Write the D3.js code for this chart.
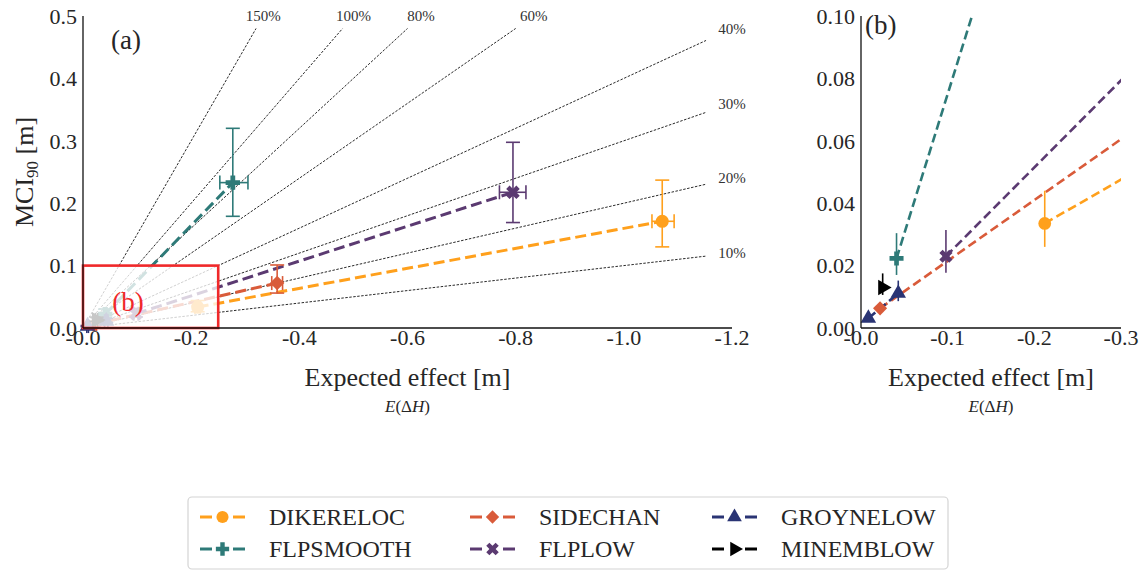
<!DOCTYPE html>
<html>
<head>
<meta charset="utf-8">
<script src="https://cdn.jsdelivr.net/npm/d3@7"></script>
<style>
    body { margin: 0; background: #fff; }
    .tick-label { fill: #262626; font-size: 22px; }
    .axis-label { fill: #262626; font-size: 26px; }
    .sub-label { fill: #262626; font-size: 17px; font-style: italic; }
    .pct-label { fill: #333; font-size: 15px; }
</style>
</head>
<body>
<svg id="chart"></svg>
<script>
// Scenario names in legend order (matplotlib fills the 3 columns top-down).
const scenarios = ['DIKERELOC', 'FLPSMOOTH', 'SIDECHAN', 'FLPLOW', 'GROYNELOW', 'MINEMBLOW'];
const colors = ['#ffa01c', '#2e7a78', '#d95b3a', '#5b3a71', '#2a3474', '#000000'];
const markers = ['circle', 'plus', 'diamond', 'x', 'triangleUp', 'triangleRight'];

// Expected effect E(dH) [m], one entry per option of each scenario.
const effect = [[-0.212, -1.071], [-0.041, -0.277], [-0.022, -0.359], [-0.098, -0.795], [-0.0085, -0.043], [-0.025]];
const effectLow = [[-0.207, -1.052], [-0.038, -0.253], [-0.019, -0.349], [-0.094, -0.770], [-0.007, -0.040], [-0.023]];
const effectHigh = [[-0.217, -1.093], [-0.044, -0.305], [-0.025, -0.369], [-0.102, -0.819], [-0.010, -0.046], [-0.027]];

// MCI90 [m] with its 90% bounds.
const mci = [[0.0335, 0.171], [0.0223, 0.233], [0.0063, 0.072], [0.023, 0.2175], [0.0031, 0.0111], [0.013]];
const mciLow = [[0.026, 0.130], [0.017, 0.179], [0.0046, 0.056], [0.0177, 0.169], [0.0022, 0.0086], [0.0106]];
const mciHigh = [[0.044, 0.237], [0.0304, 0.320], [0.0081, 0.101], [0.0314, 0.2976], [0.0040, 0.0152], [0.0175]];

// Reference ratios MCI / |E| drawn in panel (a).
const ratios = [0.1, 0.2, 0.3, 0.4, 0.6, 0.8, 1.0, 1.5];
const ratioLabels = ['10%', '20%', '30%', '40%', '60%', '80%', '100%', '150%'];

const xTicksA = [0, -0.2, -0.4, -0.6, -0.8, -1.0, -1.2];
const yTicksA = [0, 0.1, 0.2, 0.3, 0.4, 0.5];
const xTicksB = [0, -0.1, -0.2, -0.3];
const yTicksB = [0, 0.02, 0.04, 0.06, 0.08, 0.1];
const zoomBox = { x: [0, -0.25], y: [0, 0.1] };

const width = 1147;
const height = 573;
const serif = "'Liberation Serif', 'Times New Roman', 'DejaVu Serif', serif";

const svg = d3.select('#chart').attr('width', width).attr('height', height);

// Scales for both panels.
const xA = d3.scaleLinear().domain([0, -1.2]).range([83, 732]);
const yA = d3.scaleLinear().domain([0, 0.5]).range([328, 16]);
const xB = d3.scaleLinear().domain([0, -0.3]).range([861, 1121]);
const yB = d3.scaleLinear().domain([0, 0.1]).range([328, 16]);

function markerPath(kind, k) {
    switch (kind) {
        case 'circle': return { d: d3.symbol(d3.symbolCircle, 135 * k)(), rot: 0 };
        case 'plus': return { d: d3.symbol(d3.symbolCross, 115 * k)(), rot: 0 };
        case 'x': return { d: d3.symbol(d3.symbolCross, 115 * k)(), rot: 45 };
        case 'diamond': return { d: d3.symbol(d3.symbolSquare, 105 * k)(), rot: 45 };
        case 'triangleUp': return { d: d3.symbol(d3.symbolTriangle, 110 * k)(), rot: 0 };
        default: return { d: d3.symbol(d3.symbolTriangle, 110 * k)(), rot: 90 };
    }
}

function clip(id, x, y) {
    svg.append('clipPath')
        .attr('id', id)
        .append('rect')
        .attr('x', x.range()[0])
        .attr('y', y.range()[1])
        .attr('width', x.range()[1] - x.range()[0])
        .attr('height', y.range()[0] - y.range()[1]);
}
clip('clipA', xA, yA);
clip('clipB', xB, yB);

function drawScenarios(g, x, y, clipId, big) {
    const line = d3.line().x(d => x(d[0])).y(d => y(d[1]));
    const lw = big ? 3 : 2.6;

    // Dashed connection between the options of each scenario.
    g.append('g')
        .attr('clip-path', `url(#${clipId})`)
        .selectAll('path')
        .data(scenarios.map((s, i) => i).filter(i => effect[i].length > 1))
        .enter()
        .append('path')
        .attr('d', i => line(effect[i].map((e, j) => [e, mci[i][j]])))
        .attr('fill', 'none')
        .attr('stroke', i => colors[i])
        .attr('stroke-width', lw)
        .attr('stroke-dasharray', big ? '11,5' : '9,4.5');

    scenarios.forEach((s, i) => {
        effect[i].forEach((e, j) => {
            const cx = x(e);
            const cy = y(mci[i][j]);
            const cap = big ? 7 : 0;
            const bars = g.append('g').attr('stroke', colors[i]).attr('stroke-width', 1.6);

            // Vertical error bar.
            bars.append('line').attr('x1', cx).attr('x2', cx)
                .attr('y1', y(mciLow[i][j])).attr('y2', y(mciHigh[i][j]));
            // Horizontal error bar.
            bars.append('line').attr('y1', cy).attr('y2', cy)
                .attr('x1', x(effectLow[i][j])).attr('x2', x(effectHigh[i][j]));
            if (cap) {
                [mciLow[i][j], mciHigh[i][j]].forEach(v => {
                    bars.append('line').attr('x1', cx - cap).attr('x2', cx + cap)
                        .attr('y1', y(v)).attr('y2', y(v));
                });
                [effectLow[i][j], effectHigh[i][j]].forEach(v => {
                    bars.append('line').attr('y1', cy - cap).attr('y2', cy + cap)
                        .attr('x1', x(v)).attr('x2', x(v));
                });
            }

            const m = markerPath(markers[i], big ? 1 : 0.95);
            g.append('path')
                .attr('d', m.d)
                .attr('transform', `translate(${cx},${cy}) rotate(${m.rot})`)
                .attr('fill', colors[i]);
        });
    });
}

function drawAxes(x, y, xTicks, yTicks, xFmt, yFmt) {
    const g = svg.append('g');
    g.append('line').attr('x1', x.range()[0]).attr('x2', x.range()[0])
        .attr('y1', y.range()[0]).attr('y2', y.range()[1])
        .attr('stroke', '#111').attr('stroke-width', 1.3);
    g.append('line').attr('x1', x.range()[0]).attr('x2', x.range()[1])
        .attr('y1', y.range()[0]).attr('y2', y.range()[0])
        .attr('stroke', '#111').attr('stroke-width', 1.3);

    g.selectAll('.ytick').data(yTicks).enter().append('text')
        .attr('class', 'tick-label')
        .attr('x', x.range()[0] - 6)
        .attr('y', d => y(d))
        .attr('dy', '0.35em')
        .attr('text-anchor', 'end')
        .text(yFmt);

    g.selectAll('.xtick').data(xTicks).enter().append('text')
        .attr('class', 'tick-label')
        .attr('x', d => x(d))
        .attr('y', y.range()[0] + 17)
        .attr('text-anchor', 'middle')
        .text(xFmt);

    const cx = (x.range()[0] + x.range()[1]) / 2;
    g.append('text').attr('class', 'axis-label')
        .attr('x', cx).attr('y', 386).attr('text-anchor', 'middle')
        .text('Expected effect [m]');
    const sub = g.append('text').attr('class', 'sub-label')
        .attr('x', cx).attr('y', 412).attr('text-anchor', 'middle');
    sub.append('tspan').text('E');
    sub.append('tspan').attr('font-style', 'normal').text('(Δ');
    sub.append('tspan').text('H');
    sub.append('tspan').attr('font-style', 'normal').text(')');
}

const fmtX1 = d => '-' + Math.abs(d).toFixed(1);

// Panel (a).
const gA = svg.append('g');
gA.append('g')
    .selectAll('line')
    .data(ratios)
    .enter()
    .append('line')
    .attr('x1', xA(0))
    .attr('y1', yA(0))
    .attr('x2', r => xA(-0.96 * Math.min(1.2, 0.5 / r)))
    .attr('y2', r => yA(0.96 * Math.min(0.5, 1.2 * r)))
    .attr('stroke', '#111')
    .attr('stroke-width', 0.9)
    .attr('stroke-dasharray', '2.5,1.5');

gA.append('g')
    .selectAll('text')
    .data(ratios)
    .enter()
    .append('text')
    .attr('class', 'pct-label')
    .attr('x', r => xA(-Math.min(1.2, 0.5 / r)))
    .attr('y', r => yA(Math.min(0.5, 1.2 * r)))
    .attr('dy', '0.35em')
    .attr('text-anchor', 'middle')
    .text((r, i) => ratioLabels[i]);

drawScenarios(gA, xA, yA, 'clipA', true);

// Faded zoom region with its red frame.
const bx = xA(zoomBox.x[0]);
const by = yA(zoomBox.y[1]);
const bw = xA(zoomBox.x[1]) - bx;
const bh = yA(zoomBox.y[0]) - by;
gA.append('rect').attr('x', bx).attr('y', by).attr('width', bw).attr('height', bh)
    .attr('fill', '#fff').attr('fill-opacity', 0.78);
drawAxes(xA, yA, xTicksA, yTicksA, fmtX1, d => d.toFixed(1));
gA.append('rect').attr('x', bx).attr('y', by).attr('width', bw).attr('height', bh)
    .attr('fill', 'none').attr('stroke', '#f0282a').attr('stroke-width', 2.6);
gA.append('text').attr('x', xA(-0.054)).attr('y', 311)
    .attr('fill', '#f0282a').attr('font-size', 27).text('(b)');
gA.append('text').attr('x', 111).attr('y', 49)
    .attr('fill', '#262626').attr('font-size', 27).text('(a)');

// y label of panel (a).
const yl = svg.append('text').attr('class', 'axis-label')
    .attr('transform', 'translate(33, 172) rotate(-90)')
    .attr('text-anchor', 'middle');
yl.append('tspan').text('MCI');
yl.append('tspan').attr('font-size', 17).attr('dy', 5).text('90');
yl.append('tspan').attr('dy', -5).text(' [m]');

// Panel (b).
const gB = svg.append('g');
drawScenarios(gB, xB, yB, 'clipB', false);
drawAxes(xB, yB, xTicksB, yTicksB, fmtX1, d => d.toFixed(2));
gB.append('text').attr('x', 865).attr('y', 34)
    .attr('fill', '#262626').attr('font-size', 27).text('(b)');

// Legend.
const legend = svg.append('g');
legend.append('rect')
    .attr('x', 188).attr('y', 497).attr('width', 760).attr('height', 72)
    .attr('rx', 4).attr('fill', '#fff').attr('stroke', '#d4d4d4').attr('stroke-width', 1.2);

scenarios.forEach((s, i) => {
    const col = Math.floor(i / 2);
    const row = i % 2;
    const x0 = [200, 470, 712][col];
    const ty = 517 + row * 32;
    const item = legend.append('g');
    [[0, 12], [33, 45]].forEach(seg => {
        item.append('line')
            .attr('x1', x0 + seg[0]).attr('x2', x0 + seg[1])
            .attr('y1', ty).attr('y2', ty)
            .attr('stroke', colors[i]).attr('stroke-width', 3);
    });
    const m = markerPath(markers[i], 0.85);
    item.append('path')
        .attr('d', m.d)
        .attr('transform', `translate(${x0 + 22.5},${ty}) rotate(${m.rot})`)
        .attr('fill', colors[i]);
    item.append('text')
        .attr('x', x0 + 69).attr('y', ty).attr('dy', '0.35em')
        .attr('fill', '#262626').attr('font-size', 24)
        .text(s);
});

// Serif text everywhere, like the LaTeX-rendered original.
svg.selectAll('text').attr('font-family', serif);
</script>
</body>
</html>
